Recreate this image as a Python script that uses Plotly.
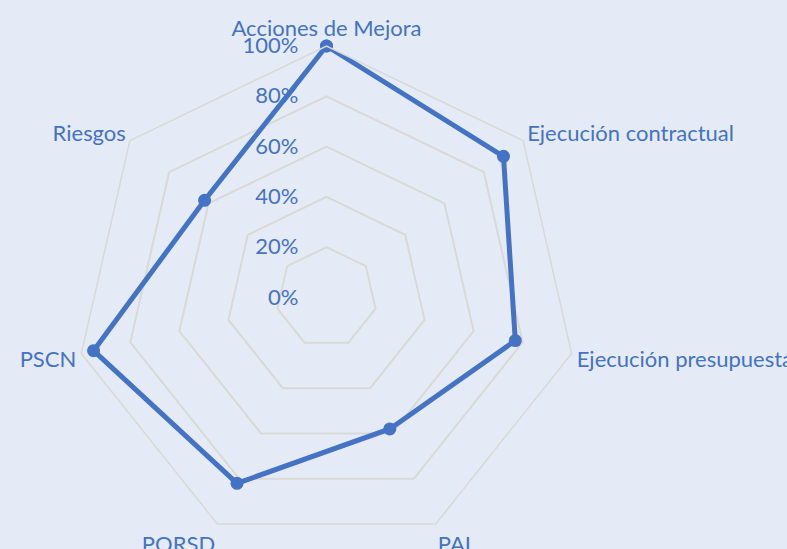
import plotly.graph_objects as go

categories = [
    "Acciones de Mejora",
    "Ejecución contractual",
    "Ejecución presupuestal",
    "PAI",
    "PQRSD",
    "PSCN",
    "Riesgos",
]
values = [1.00, 0.90, 0.77, 0.58, 0.82, 0.95, 0.62]
radial_ticks = [0, 0.2, 0.4, 0.6, 0.8, 1.0]
radial_labels = ["0%", "20%", "40%", "60%", "80%", "100%"]

W, H = 787, 549
BLUE = "#4472C4"
BG = "#E4EBF6"
GRID = "#D9D9D6"
FONT = "Lato"

# polar area: centre and radius in pixels
top = 46
R = (H - top) / 2
cx = 326.5

fig = go.Figure()
fig.add_trace(go.Scatterpolar(
    r=values + values[:1],
    theta=categories + categories[:1],
    mode="lines+markers",
    line=dict(color=BLUE, width=5),
    marker=dict(color=BLUE, size=13),
    hoverinfo="skip",
))

fig.update_layout(
    width=W,
    height=H,
    margin=dict(l=0, r=0, t=top, b=0),
    paper_bgcolor=BG,
    plot_bgcolor=BG,
    showlegend=False,
    font=dict(family=FONT, color=BLUE),
    polar=dict(
        domain=dict(x=[(cx - R) / W, (cx + R) / W], y=[0, 1]),
        bgcolor=BG,
        gridshape="linear",
        radialaxis=dict(
            range=[0, 1],
            tickvals=radial_ticks,
            ticktext=radial_labels,
            angle=90,
            side="counterclockwise",
            showline=False,
            ticks="outside",
            ticklen=20,
            tickcolor="rgba(0,0,0,0)",
            gridcolor=GRID,
            gridwidth=1.5,
            tickfont=dict(size=22, color=BLUE, family=FONT),
            tickangle=90,
        ),
        angularaxis=dict(
            rotation=90,
            direction="clockwise",
            showgrid=False,
            showline=True,
            linecolor=GRID,
            linewidth=1.5,
            ticks="",
            tickfont=dict(size=22, color=BLUE, family=FONT),
        ),
    ),
)

fig.write_html("out.html")
